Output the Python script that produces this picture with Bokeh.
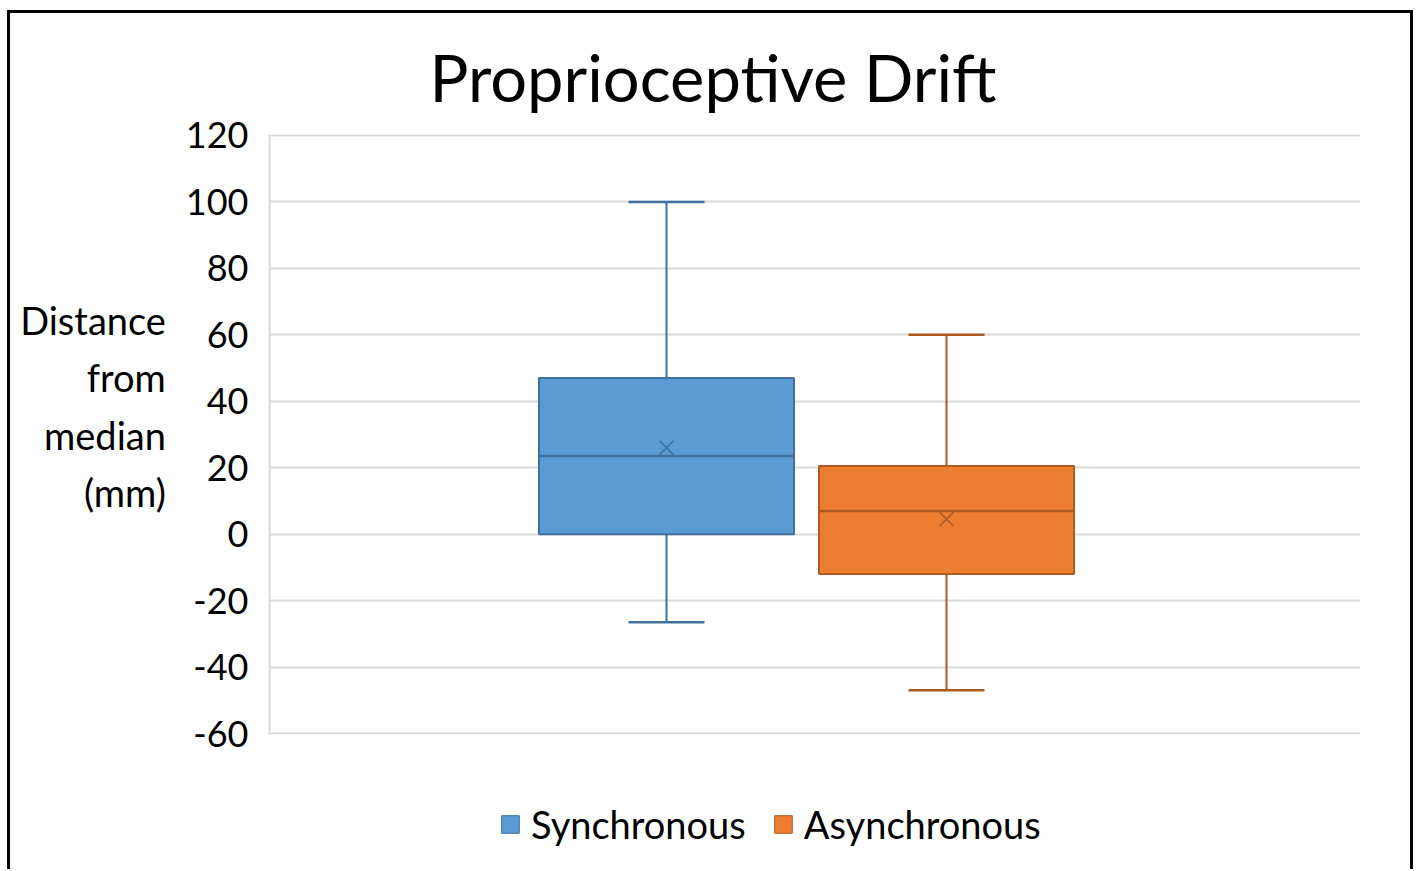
from bokeh.plotting import figure
from bokeh.layouts import column
from bokeh.models import Range1d, Legend, LegendItem, ColumnDataSource, FixedTicker
from bokeh.embed import file_html
from bokeh.resources import INLINE

# ---- data ----
series = ["Synchronous", "Asynchronous"]
whisker_max = [100, 60]
q3 = [47, 20.5]
median = [23.5, 7]
q1 = [0, -12]
whisker_min = [-26.5, -47]
mean = [26, 4.5]
y_ticks = [-60, -40, -20, 0, 20, 40, 60, 80, 100, 120]
y_tick_labels = ["-60", "-40", "-20", "0", "20", "40", "60", "80", "100", "120"]
title_text = "Proprioceptive Drift"
ylabel_lines = ["Distance", "from", "median", "(mm)"]

fills = ["#5B9BD5", "#ED7D31"]
lines = ["#41719C", "#AE5A21"]
FONT = "Lato"

# layout constants (x in pixel-like units)
centers = [397, 677]
box_w = 255
cap_half = 38

p = figure(frame_width=1091, frame_height=600, output_backend="svg", toolbar_location=None,
           x_range=Range1d(0, 1091), y_range=Range1d(-60.3, 120.3),
           min_border_left=259, min_border_right=50, min_border_top=121,
           min_border_bottom=30, title=title_text)
p.outline_line_color = None
p.title.text_font = FONT
p.title.text_font_size = "65px"
p.title.text_font_style = "normal"
p.title.text_color = "#000000"
p.title.align = "left"
p.title.offset = 160
p.title.standoff = 38

p.xaxis.visible = False
p.xgrid.visible = False
p.ygrid.grid_line_color = "#D9D9D9"
p.ygrid.grid_line_width = 2
p.yaxis.ticker = FixedTicker(ticks=y_ticks)
p.yaxis.major_label_overrides = dict(zip(y_ticks, y_tick_labels))
p.yaxis.axis_line_color = "#D9D9D9"
p.yaxis.axis_line_width = 2
p.yaxis.major_tick_line_color = None
p.yaxis.minor_tick_line_color = None
p.yaxis.major_label_text_font = FONT
p.yaxis.major_label_text_font_size = "36px"
p.yaxis.major_label_text_color = "#000000"
p.yaxis.major_label_standoff = 15
p.yaxis.axis_label = "\n".join(ylabel_lines) + "\n"
p.yaxis.axis_label_orientation = "horizontal"
p.yaxis.axis_label_text_font = FONT
p.yaxis.axis_label_text_font_size = "38px"
p.yaxis.axis_label_text_font_style = "normal"
p.yaxis.axis_label_text_color = "#000000"
p.yaxis.axis_label_text_align = "right"
p.yaxis.axis_label_text_line_height = 1.25
p.yaxis.axis_label_standoff = 17

src = ColumnDataSource(dict(x=centers, series=series, wmax=whisker_max, q3=q3, med=median,
                            q1=q1, wmin=whisker_min, mean=mean, fill=fills, line=lines,
                            xl=[c - box_w / 2 for c in centers], xr=[c + box_w / 2 for c in centers],
                            cl=[c - cap_half for c in centers], cr=[c + cap_half for c in centers]))

# whiskers
p.segment(x0="x", y0="q3", x1="x", y1="wmax", line_color="line", line_width=2, source=src)
p.segment(x0="x", y0="q1", x1="x", y1="wmin", line_color="line", line_width=2, source=src)
p.segment(x0="cl", y0="wmax", x1="cr", y1="wmax", line_color="line", line_width=2.5, source=src)
p.segment(x0="cl", y0="wmin", x1="cr", y1="wmin", line_color="line", line_width=2.5, source=src)

for i in range(len(series)):
    p.vbar(x=[centers[i]], width=box_w, top=[q3[i]], bottom=[q1[i]],
           fill_color=fills[i], line_color=lines[i], line_width=2)

p.segment(x0="xl", y0="med", x1="xr", y1="med", line_color="line", line_width=2.5, source=src)
p.scatter(x="x", y="mean", marker="x", size=20, line_color="line", line_width=1.5, source=src)

# ---- legend strip (separate figure below the chart; its frame aligns with the chart's) ----
lg = figure(width=1400, height=105, output_backend="svg", toolbar_location=None,
            x_axis_type=None, y_axis_type=None, x_range=Range1d(0, 1), y_range=Range1d(0, 1),
            min_border=0, title_location=None)
lg.outline_line_color = None
items = []
for i in range(len(series)):
    # zero-size proxy outside the visible range: only used for the legend swatch
    r = lg.vbar(x=[0.5], width=0, top=[-1], bottom=[-1], fill_color=fills[i],
                line_color=lines[i], line_width=1)
    items.append(LegendItem(label=series[i], renderers=[r]))
legend = Legend(items=items, orientation="horizontal", location=(230, 22),
                label_text_font=FONT, label_text_font_size="38px", label_text_color="#000000",
                glyph_width=22, glyph_height=22, label_standoff=10, spacing=26, padding=0,
                border_line_color=None, background_fill_alpha=0, margin=0)
lg.add_layout(legend, "center")

layout = column(p, lg, spacing=0)
layout.styles = {"border-top": "3px solid black", "border-left": "3px solid black",
                 "border-right": "3px solid black", "margin-left": "7px", "margin-top": "10px"}

open("out.html", "w").write(file_html(layout, INLINE))
